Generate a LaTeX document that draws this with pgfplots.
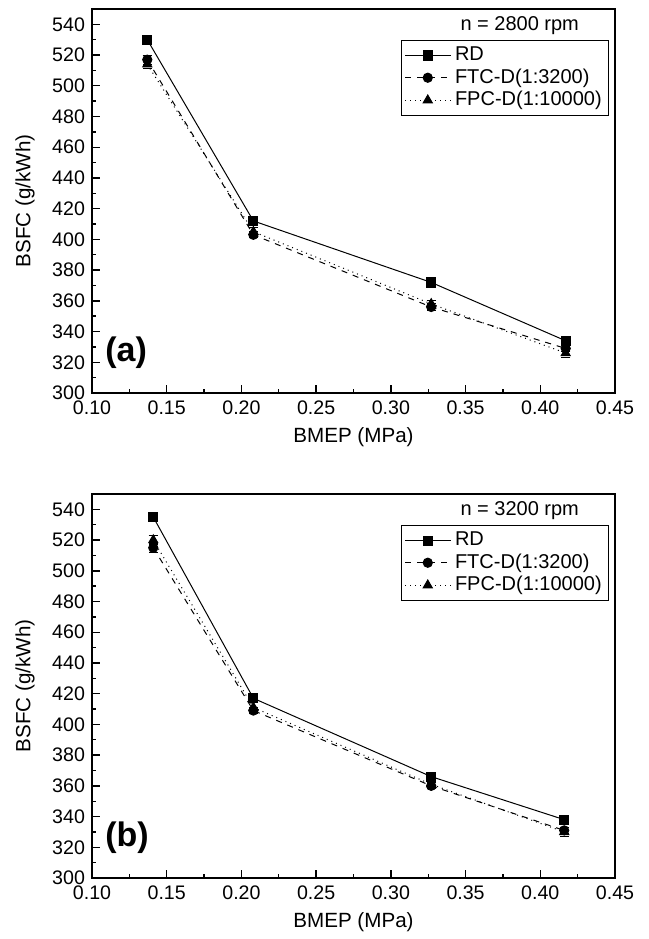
\documentclass[border=0pt]{standalone}
\usepackage{fontspec}
\setmainfont{Liberation Sans}
\usepackage{pgfplots}
\pgfplotsset{compat=1.18}

\pgfplotsset{
  bsfc/.style={
    width=261.5pt, height=192pt, scale only axis,
    xmin=0.10, xmax=0.45, ymin=300, ymax=550,
    xtick={0.10,0.15,...,0.45}, ytick={300,320,...,540},
    minor x tick num=1, minor y tick num=1,
    xtick pos=left, ytick pos=left, tick align=inside,
    major tick length=4pt, minor tick length=2pt,
    xticklabel style={yshift=-0.5pt, /pgf/number format/.cd, fixed, fixed zerofill, precision=2},
    /pgf/number format/assume math mode=true,
    tick label style={font=\fontsize{9.8}{11}\selectfont},
    every axis x label/.style={at={(rel axis cs:0.5,0)}, yshift=-22pt, anchor=center,
      font=\fontsize{10.3}{12}\selectfont},
    every axis y label/.style={at={(rel axis cs:0,0.5)}, xshift=-33.5pt, anchor=center,
      rotate=90, font=\fontsize{10.3}{12}\selectfont},
    xlabel={BMEP (MPa)}, ylabel={BSFC (g/kWh)},
    axis line style={line width=0.9pt}, every tick/.style={black,line width=0.7pt},
    legend style={at={(rel axis cs:0.989,0.92)}, anchor=north east,
      font=\fontsize{10}{11}\selectfont, draw=black, line width=0.5pt,
      row sep=-1.5pt, inner sep=1.5pt},
    legend cell align=left,
    legend image code/.code={\draw[mark repeat=2,mark phase=2,#1]
      plot coordinates {(0cm,0cm) (0.4cm,0cm) (0.8cm,0cm)};},
  },
  rd/.style={black, line width=0.5pt, solid, mark=square*, mark size=2.3pt,
    error bars/.cd, y dir=both, y explicit, error mark options={black,line width=0.5pt,mark size=2.3pt,rotate=90}},
  ftc/.style={black, line width=0.5pt, dashed, mark=*, mark size=2.3pt, mark options={solid},
    error bars/.cd, y dir=both, y explicit, error mark options={black,line width=0.5pt,mark size=2.3pt,rotate=90}},
  fpc/.style={black, line width=0.5pt, dotted, mark=triangle*, mark size=2.6pt, mark options={solid},
    error bars/.cd, y dir=both, y explicit, error mark options={black,line width=0.5pt,mark size=2.3pt,rotate=90}},
}

\begin{document}
\begin{tikzpicture}
\begin{axis}[bsfc, name=top]
\addplot[rd] coordinates {(0.137,530) +- (0,2) (0.208,412) +- (0,2) (0.327,372) +- (0,2) (0.417,334) +- (0,2)};
\addplot[ftc] coordinates {(0.137,517) +- (0,3) (0.208,403) +- (0,2) (0.327,356) +- (0,2) (0.417,329) +- (0,2)};
\addplot[fpc] coordinates {(0.137,514) +- (0,3) (0.208,405) +- (0,3) (0.327,358) +- (0,2) (0.417,326) +- (0,3)};
\legend{RD, FTC-D(1:3200), FPC-D(1:10000)}
\node[anchor=east, font=\fontsize{10}{12}\selectfont] at (rel axis cs:0.9445,0.958) {n = 2800 rpm};
\node[anchor=south west, font=\bfseries\fontsize{17}{19}\selectfont] at (rel axis cs:0.012,0.045) {(a)};
\end{axis}
\begin{axis}[bsfc, name=bot, at={(top.south west)}, anchor=north west, yshift=-50.5pt]
\addplot[rd] coordinates {(0.141,535) +- (0,2) (0.208,417) +- (0,2) (0.327,366) +- (0,2) (0.416,338) +- (0,2)};
\addplot[ftc] coordinates {(0.141,515) +- (0,3) (0.208,409) +- (0,2) (0.327,360) +- (0,2) (0.416,331) +- (0,2)};
\addplot[fpc] coordinates {(0.141,520) +- (0,3) (0.208,411) +- (0,3) (0.327,361) +- (0,2) (0.416,330) +- (0,3)};
\legend{RD, FTC-D(1:3200), FPC-D(1:10000)}
\node[anchor=east, font=\fontsize{10}{12}\selectfont] at (rel axis cs:0.9445,0.958) {n = 3200 rpm};
\node[anchor=south west, font=\bfseries\fontsize{17}{19}\selectfont] at (rel axis cs:0.012,0.045) {(b)};
\end{axis}
\pgfresetboundingbox
\path ([shift={(-46pt,4.5pt)}]top.north west) rectangle ([shift={(17pt,-30.5pt)}]bot.south east);
\end{tikzpicture}
\end{document}
